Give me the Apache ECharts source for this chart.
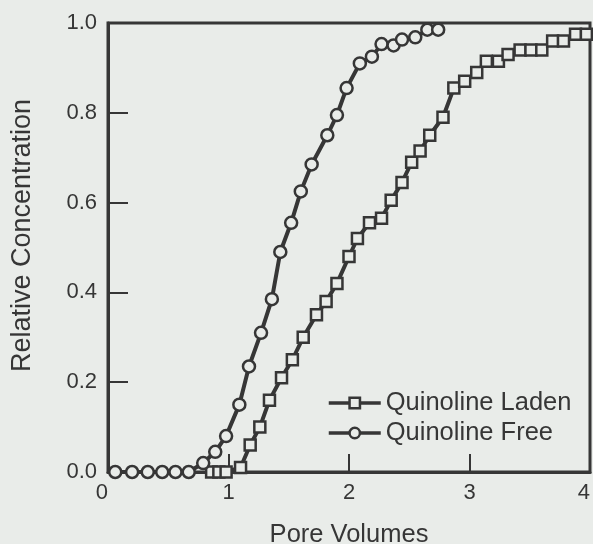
<!DOCTYPE html>
<html>
<head>
<meta charset="utf-8">
<script src="https://cdn.jsdelivr.net/npm/echarts@6/dist/echarts.min.js"></script>
<style>
  html, body { margin: 0; padding: 0; background: #e9ece9; }
  #chart { width: 593px; height: 544px; }
</style>
</head>
<body>
<div id="chart"></div>
<script>
// Breakthrough curves: relative concentration versus pore volumes eluted
const seriesNames = ['Quinoline Laden', 'Quinoline Free'];

const ladenX = [0.86, 0.92, 0.98, 1.10, 1.18, 1.26, 1.34, 1.44, 1.53, 1.62, 1.73, 1.81, 1.90, 2.00,
  2.07, 2.17, 2.27, 2.35, 2.44, 2.52, 2.59, 2.67, 2.78, 2.87, 2.96, 3.06, 3.14, 3.24, 3.32, 3.42,
  3.51, 3.60, 3.69, 3.78, 3.88, 3.97];
const ladenY = [0.00, 0.00, 0.00, 0.01, 0.06, 0.10, 0.16, 0.21, 0.25, 0.30, 0.35, 0.38, 0.42, 0.48,
  0.52, 0.555, 0.565, 0.605, 0.645, 0.69, 0.715, 0.75, 0.79, 0.855, 0.87, 0.89, 0.915, 0.915, 0.93, 0.94,
  0.94, 0.94, 0.96, 0.96, 0.975, 0.975];

const freeX = [0.06, 0.20, 0.33, 0.45, 0.56, 0.67, 0.79, 0.89, 0.98, 1.09, 1.17, 1.27, 1.36, 1.43,
  1.52, 1.60, 1.69, 1.82, 1.90, 1.98, 2.09, 2.19, 2.27, 2.37, 2.44, 2.55, 2.65, 2.74];
const freeY = [0.00, 0.00, 0.00, 0.00, 0.00, 0.00, 0.02, 0.045, 0.08, 0.15, 0.235, 0.31, 0.385, 0.49,
  0.555, 0.625, 0.685, 0.75, 0.795, 0.855, 0.91, 0.925, 0.953, 0.95, 0.963, 0.968, 0.985, 0.985];

const xTicks = [0, 1, 2, 3, 4];
const yTicks = ['0.0', '0.2', '0.4', '0.6', '0.8', '1.0'];

const ink = '#363636';
const paper = '#e9ece9';
const font = 'Liberation Sans, Arial, Helvetica, sans-serif';

const pairs = (xs, ys) => xs.map((x, i) => [x, ys[i]]);

const chart = echarts.init(document.getElementById('chart'));
chart.setOption({
  backgroundColor: paper,
  animation: false,
  grid: {
    left: 108, top: 23, right: 3, bottom: 72,
    outerBoundsMode: 'none', containLabel: false,
    show: true, borderColor: ink, borderWidth: 3, backgroundColor: 'transparent'
  },
  xAxis: {
    type: 'value', min: 0, max: 4, interval: 1,
    name: 'Pore Volumes', nameLocation: 'middle', nameGap: 50, nameMoveOverlap: false,
    nameTextStyle: { color: ink, fontSize: 25.5, fontFamily: font },
    axisLine: { show: true, lineStyle: { color: ink, width: 3 } },
    axisTick: { show: true, inside: true, length: 18, lineStyle: { color: ink, width: 2 } },
    axisLabel: {
      color: ink, fontSize: 22, fontFamily: font, margin: 10,
      alignMinLabel: 'right', alignMaxLabel: 'right',
      formatter: v => String(xTicks[Math.round(v)])
    },
    splitLine: { show: false }
  },
  yAxis: {
    type: 'value', min: 0, max: 1, interval: 0.2,
    name: 'Relative Concentration', nameLocation: 'middle', nameGap: 72, nameMoveOverlap: false,
    nameTextStyle: { color: ink, fontSize: 27, fontFamily: font, padding: [0, 0, 0, 24] },
    axisLine: { show: true, lineStyle: { color: ink, width: 3 } },
    axisTick: { show: true, inside: true, length: 20, lineStyle: { color: ink, width: 2 } },
    axisLabel: {
      color: ink, fontSize: 22, fontFamily: font, margin: 11,
      formatter: v => yTicks[Math.round(v * 5)]
    },
    splitLine: { show: false }
  },
  legend: {
    orient: 'vertical', left: 327, top: 390, padding: 0,
    itemWidth: 52, itemHeight: 13, itemGap: 4,
    lineStyle: { color: ink, width: 3.5 },
    itemStyle: { color: paper, borderColor: ink, borderWidth: 2.5 },
    textStyle: { color: ink, fontSize: 25.5, fontFamily: font },
    data: seriesNames
  },
  series: [
    {
      name: seriesNames[0], type: 'line', data: pairs(ladenX, ladenY),
      symbol: 'rect', symbolSize: 11, showAllSymbol: true,
      lineStyle: { color: ink, width: 4 },
      itemStyle: { color: paper, borderColor: ink, borderWidth: 2.5 },
      emphasis: { disabled: true }
    },
    {
      name: seriesNames[1], type: 'line', data: pairs(freeX, freeY),
      symbol: 'circle', symbolSize: 12, showAllSymbol: true,
      lineStyle: { color: ink, width: 4 },
      itemStyle: { color: paper, borderColor: ink, borderWidth: 2.5 },
      emphasis: { disabled: true }
    }
  ]
});
</script>
</body>
</html>
